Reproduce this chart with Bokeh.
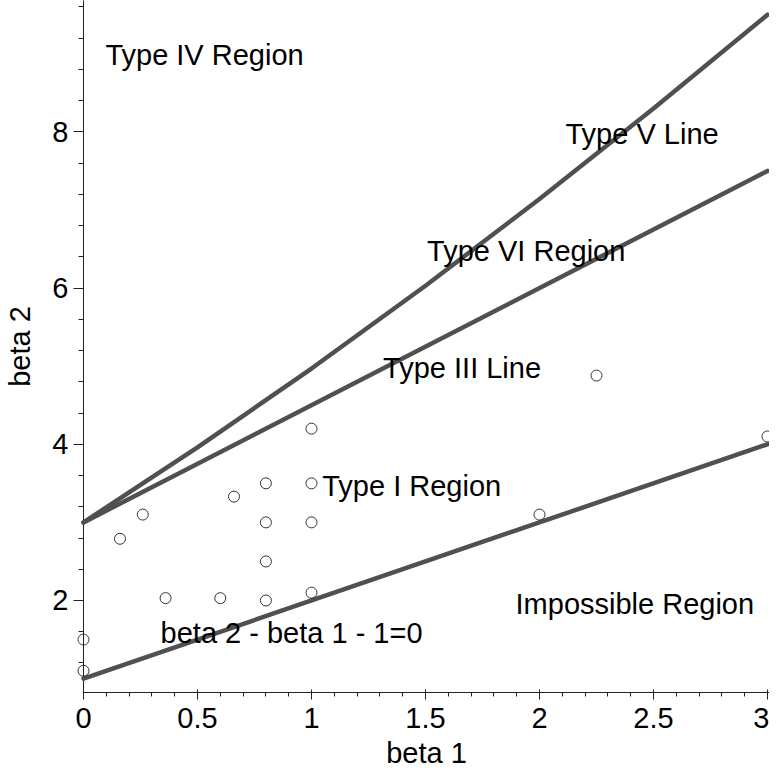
from bokeh.plotting import figure
from bokeh.models import Range1d, SingleIntervalTicker, NumeralTickFormatter, ColumnDataSource
from bokeh.core.properties import value
from bokeh.embed import file_html
from bokeh.resources import INLINE

# ---- data ----
obs_beta1 = [0.0, 0.0, 0.16, 0.26, 0.36, 0.6, 0.66, 0.8, 0.8, 0.8, 0.8,
             1.0, 1.0, 1.0, 1.0, 2.0, 2.25, 3.0]
obs_beta2 = [1.5, 1.1, 2.79, 3.1, 2.03, 2.03, 3.33, 3.5, 3.0, 2.5, 2.0,
             4.2, 3.5, 3.0, 2.1, 3.1, 4.88, 4.1]

bound_beta1 = [0, 3]            # beta2 - beta1 - 1 = 0
bound_beta2 = [1, 4]

type3_beta1 = [0, 3]            # Type III line
type3_beta2 = [3, 7.5]

type5_beta1 = [0, 0.25, 0.5, 1, 1.5, 2, 2.5, 3]   # Type V line
type5_beta2 = [3, 3.48, 3.96, 4.97, 6.03, 7.14, 8.3, 9.5]

label_text = ["Type IV Region", "Type V Line", "Type VI Region", "Type III Line",
              "Type I Region", "Impossible Region", "beta 2 - beta 1 - 1=0"]
label_beta1 = [0.096, 2.114, 1.507, 1.314, 1.047, 1.895, 0.338]
label_beta2 = [8.98, 7.97, 6.47, 4.98, 3.47, 1.96, 1.58]

FONT = "Liberation Sans"
LINE_COLOR = "#505050"

p = figure(width=769, height=772,
           x_range=Range1d(0, 3.0088), y_range=Range1d(0.822, 9.682),
           output_backend="svg", toolbar_location=None,
           min_border_left=83, min_border_right=0,
           min_border_top=0, min_border_bottom=80,
           x_axis_label="beta 1", y_axis_label="beta 2")

p.grid.visible = False
p.outline_line_color = None
p.background_fill_color = "white"
p.border_fill_color = "white"

# axes styling
p.xaxis.ticker = SingleIntervalTicker(interval=0.5, num_minor_ticks=5)
p.yaxis.ticker = SingleIntervalTicker(interval=2, num_minor_ticks=5)
p.xaxis.formatter = NumeralTickFormatter(format="0.[0]")
for ax in (p.xaxis[0], p.yaxis[0]):
    ax.axis_line_color = "#222222"
    ax.axis_line_width = 1
    ax.major_tick_line_color = "#222222"
    ax.minor_tick_line_color = "#222222"
    ax.major_label_text_font = FONT
    ax.major_label_text_font_size = "29px"
    ax.major_label_text_color = "black"
    ax.axis_label_text_font = FONT
    ax.axis_label_text_font_size = "29px"
    ax.axis_label_text_font_style = "normal"
    ax.axis_label_text_color = "black"

p.xaxis.major_tick_in = 3
p.xaxis.major_tick_out = 7
p.xaxis.minor_tick_in = 0
p.xaxis.minor_tick_out = 4
p.xaxis.major_label_standoff = 8
p.xaxis.axis_label_standoff = 6

p.yaxis.major_tick_in = 0
p.yaxis.major_tick_out = 10
p.yaxis.minor_tick_in = 0
p.yaxis.minor_tick_out = 5
p.yaxis.major_label_standoff = 5
p.yaxis.axis_label_standoff = 13

# curves
for xs, ys in ((bound_beta1, bound_beta2), (type3_beta1, type3_beta2), (type5_beta1, type5_beta2)):
    p.line(xs, ys, line_color=LINE_COLOR, line_width=4.5, line_cap="round",
           line_join="round", level="overlay")

# observations
src = ColumnDataSource(dict(x=obs_beta1, y=obs_beta2))
p.scatter("x", "y", source=src, marker="circle", size=11, fill_color=None,
          line_color="#333333", line_width=1, level="overlay")

# region / line labels
lsrc = ColumnDataSource(dict(x=label_beta1, y=label_beta2, t=label_text))
p.text("x", "y", text="t", source=lsrc, text_font=value(FONT),
       text_font_size="29px", text_color="black", text_align="left",
       text_baseline="middle", level="overlay")

open("out.html", "w").write(file_html(p, INLINE))
